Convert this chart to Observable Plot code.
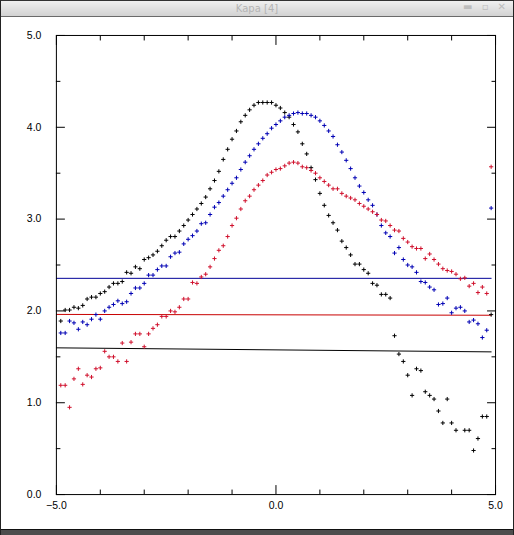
<!DOCTYPE html>
<html>
<head>
<meta charset="utf-8">
<script src="https://cdn.jsdelivr.net/npm/d3@7"></script>
<script src="https://cdn.jsdelivr.net/npm/@observablehq/plot@0.6"></script>
<style>
  html, body { margin: 0; padding: 0; background: #fff; }
  #win { position: relative; width: 514px; height: 535px; overflow: hidden; background: #fff; box-sizing: border-box; border-left: 1px solid #222; border-right: 1px solid #222; border-top: 1px solid #333; }
  #title { position: absolute; left: 0; right: 0; top: 0; height: 15px; border-bottom: 1px solid #6a6a6a;
    background: linear-gradient(#f0f0f0, #d2d2d2); font: 10px "DejaVu Sans", sans-serif; color: #b4b4b4; text-align: center; line-height: 15px; }
  #icons { position: absolute; right: 4px; top: 0; font: 10px "DejaVu Sans", sans-serif; color: #bdbdbd; letter-spacing: 3px; }
  #chart { position: absolute; left: -1px; top: 16px; }
  #bottom { position: absolute; left: 0; right: 0; top: 528px; height: 7px; background: #4d4d4d; border-top: 1px solid #111; }
</style>
</head>
<body>
<div id="win">
  <div id="title">Kapa [4]<span id="icons">▬ ▫ ✕</span></div>
  <div id="chart"></div>
  <div id="bottom"></div>
</div>
<script>
// ---- data ----
const xs = [-4.9,-4.8,-4.7,-4.6,-4.5,-4.4,-4.3,-4.2,-4.1,-4.0,
            -3.9,-3.8,-3.7,-3.6,-3.5,-3.4,-3.3,-3.2,-3.1,-3.0,
            -2.9,-2.8,-2.7,-2.6,-2.5,-2.4,-2.3,-2.2,-2.1,-2.0,
            -1.9,-1.8,-1.7,-1.6,-1.5,-1.4,-1.3,-1.2,-1.1,-1.0,
            -0.9,-0.8,-0.7,-0.6,-0.5,-0.4,-0.3,-0.2,-0.1,0.0,
            0.1,0.2,0.3,0.4,0.5,0.6,0.7,0.8,0.9,1.0,
            1.1,1.2,1.3,1.4,1.5,1.6,1.7,1.8,1.9,2.0,
            2.1,2.2,2.3,2.4,2.5,2.6,2.7,2.8,2.9,3.0,
            3.1,3.2,3.3,3.4,3.5,3.6,3.7,3.8,3.9,4.0,
            4.1,4.2,4.3,4.4,4.5,4.6,4.7,4.8,4.9];

const blackY = [1.89,2.01,2.01,2.04,2.03,2.06,2.13,2.15,2.15,2.19,
                2.21,2.26,2.30,2.30,2.32,2.42,2.41,2.48,2.46,2.56,
                2.58,2.61,2.65,2.71,2.77,2.81,2.81,2.87,2.93,2.99,
                3.05,3.11,3.17,3.24,3.33,3.42,3.52,3.65,3.76,3.87,
                3.96,4.06,4.13,4.19,4.24,4.27,4.27,4.27,4.27,4.24,
                4.21,4.16,4.11,4.03,3.95,3.82,3.71,3.56,3.43,3.28,
                3.15,3.04,2.96,2.88,2.76,2.69,2.61,2.51,2.51,2.45,
                2.41,2.30,2.28,2.18,2.18,2.14,1.73,1.53,1.45,1.30,
                1.08,1.37,1.35,1.12,1.08,1.04,0.91,0.78,1.04,0.78,
                0.70,null,0.70,0.70,0.48,0.61,0.85,0.85,1.96];

const blueY = [1.76,1.76,1.89,1.87,1.80,1.88,1.85,1.91,1.96,1.91,
               2.00,2.04,2.07,2.11,2.08,2.10,2.19,2.25,2.25,2.30,
               2.39,2.39,2.45,2.49,2.49,2.59,2.63,2.64,2.73,2.78,
               2.82,2.87,2.95,2.96,3.05,3.13,3.18,3.25,3.32,3.39,
               3.45,3.54,3.62,3.69,3.76,3.82,3.88,3.93,3.99,4.03,
               4.07,4.11,4.13,4.15,4.16,4.15,4.15,4.13,4.11,4.07,
               4.02,3.96,3.90,3.81,3.73,3.64,3.55,3.45,3.36,3.29,
               3.21,3.15,3.05,2.93,2.85,2.81,2.63,2.69,2.56,2.50,
               2.48,2.42,2.32,2.31,2.26,2.23,2.07,2.08,2.14,1.98,
               2.03,2.04,2.00,1.88,1.90,1.86,1.71,1.79,3.12];

const redY = [1.19,1.19,0.95,1.26,1.37,1.20,1.30,1.28,1.37,1.38,
              1.56,1.50,1.50,1.45,1.65,1.45,1.66,1.75,1.75,1.61,
              1.75,1.81,1.85,1.94,1.94,2.00,1.99,2.04,2.13,2.13,
              2.31,2.30,2.37,2.40,2.48,2.57,2.66,2.71,2.81,2.93,
              3.01,3.11,3.20,3.25,3.32,3.37,3.42,3.48,3.51,3.54,
              3.55,3.58,3.61,3.62,3.61,3.57,3.56,3.53,3.50,3.45,
              3.41,3.37,3.33,3.33,3.28,3.25,3.23,3.21,3.17,3.14,
              3.11,3.08,3.05,2.99,2.98,2.93,2.88,2.87,2.79,2.75,
              2.70,2.68,2.68,2.57,2.62,2.56,2.51,2.46,2.44,2.43,
              2.40,2.35,2.36,2.27,2.30,2.20,2.26,2.19,3.57];

// reference levels (start, end)
const levelX = [-5.0, 4.9];
const blackLevel = [1.598, 1.554];
const redLevel = [1.962, 1.953];
const blueLevel = [2.355, 2.355];

// ticks
const xMinorTicks = [-4,-3,-2,-1,1,2,3,4];
const xMajorTicks = [-5,0,5];
const xLabelTicks = [-5,0,5];
const yMinorTicks = [0.5,1.5,2.5,3.5,4.5];
const yMajorTicks = [0,1,2,3,4,5];
const yLabelTicks = [0,1,2,3,4,5];

const colors = {black: "#000000", blue: "#0000b4", red: "#d0102c"};

// ---- build tables ----
const pts = (ys) => xs.map((x, i) => ({x, y: ys[i]})).filter(d => d.y != null);
const lvl = (ys) => levelX.map((x, i) => ({x, y: ys[i]}));

const plusSymbol = {
  draw(ctx, size) {
    const r = Math.sqrt(size / Math.PI);
    ctx.moveTo(-r, 0); ctx.lineTo(r, 0);
    ctx.moveTo(0, -r); ctx.lineTo(0, r);
  }
};
const fmt = d3.format(".1f");

const chart = Plot.plot({
  width: 514,
  height: 512,
  marginLeft: 56,
  marginRight: 18,
  marginTop: 18,
  marginBottom: 34,
  style: {fontFamily: "'Liberation Sans', Arial, sans-serif", fontSize: "10.5px", color: "#000", background: "transparent", overflow: "visible"},
  x: {domain: [-5, 5]},
  y: {domain: [0, 5]},
  marks: [
    Plot.line(lvl(blackLevel), {x: "x", y: "y", stroke: colors.black, strokeWidth: 1}),
    Plot.line(lvl(redLevel), {x: "x", y: "y", stroke: "#c80000", strokeWidth: 1}),
    Plot.line(lvl(blueLevel), {x: "x", y: "y", stroke: "#000098", strokeWidth: 1}),
    Plot.dot(pts(blackY), {x: "x", y: "y", symbol: plusSymbol, r: 2.1, fill: "none", stroke: colors.black, strokeWidth: 1}),
    Plot.dot(pts(blueY), {x: "x", y: "y", symbol: plusSymbol, r: 2.1, fill: "none", stroke: colors.blue, strokeWidth: 1}),
    Plot.dot(pts(redY), {x: "x", y: "y", symbol: plusSymbol, r: 2.1, fill: "none", stroke: colors.red, strokeWidth: 1}),
    Plot.frame({stroke: "#000", strokeWidth: 1}),
    // inward ticks
    Plot.axisX(xMinorTicks, {anchor: "bottom", tickSize: -4.5, fill: "none", label: null}),
    Plot.axisX(xMajorTicks, {anchor: "bottom", tickSize: -9, fill: "none", label: null}),
    Plot.axisX(xMinorTicks, {anchor: "top", tickSize: -4.5, fill: "none", label: null}),
    Plot.axisX(xMajorTicks, {anchor: "top", tickSize: -9, fill: "none", label: null}),
    Plot.axisY(yMinorTicks, {anchor: "left", tickSize: -4.5, fill: "none", label: null}),
    Plot.axisY(yMajorTicks, {anchor: "left", tickSize: -9, fill: "none", label: null}),
    Plot.axisY(yMinorTicks, {anchor: "right", tickSize: -4.5, fill: "none", label: null}),
    Plot.axisY(yMajorTicks, {anchor: "right", tickSize: -9, fill: "none", label: null}),
    // labels
    Plot.axisX(xLabelTicks, {anchor: "bottom", tickSize: 0, tickPadding: 7, tickFormat: fmt, label: null}),
    Plot.axisY(yLabelTicks, {anchor: "left", tickSize: 0, tickPadding: 15, tickFormat: fmt, label: null})
  ]
});
document.getElementById("chart").appendChild(chart);
</script>
</body>
</html>
